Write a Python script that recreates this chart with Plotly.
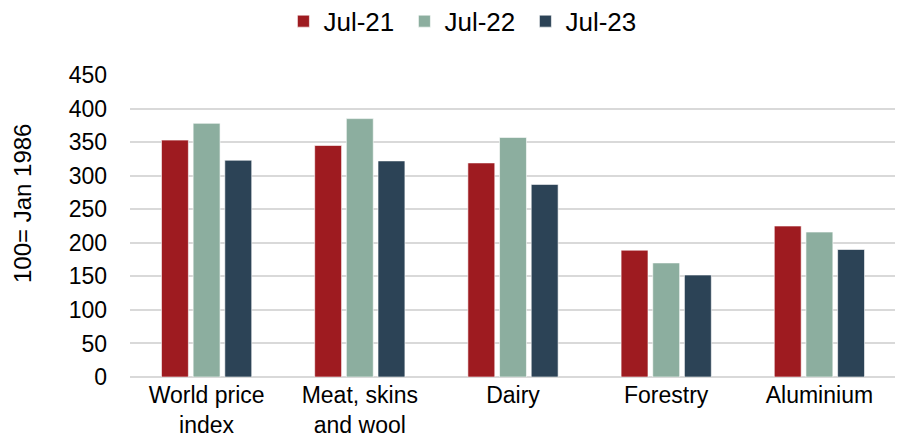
import plotly.graph_objects as go

categories = ["World price<br>index", "Meat, skins<br>and wool", "Dairy", "Forestry", "Aluminium"]
series_names = ["Jul-21", "Jul-22", "Jul-23"]
jul21 = [353, 345, 319, 189, 225]
jul22 = [378, 385, 357, 170, 216]
jul23 = [323, 322, 287, 152, 190]
colors = ["#9E1B20", "#8CAE9F", "#2C4356"]
y_title = "100= Jan 1986"

fig = go.Figure()
for name, vals, c in zip(series_names, [jul21, jul22, jul23], colors):
    fig.add_trace(go.Bar(x=categories, y=vals, name=name, marker_color=c,
                         marker_line=dict(color="rgba(255,255,255,0.6)", width=1)))

fig.update_layout(
    width=903, height=441,
    margin=dict(l=122, r=15, t=67, b=72, autoexpand=False),
    paper_bgcolor="white", plot_bgcolor="white",
    font=dict(family="Liberation Sans, Arial, sans-serif", size=23, color="#000000"),
    barmode="group", bargap=0.38, bargroupgap=0.15,
    legend=dict(orientation="h", x=0.506, xanchor="center", xref="container",
                y=0.970, yanchor="middle", yref="container",
                font=dict(size=26), itemwidth=30, entrywidth=76, traceorder="normal"),
    showlegend=True,
)
fig.add_annotation(text=y_title, textangle=-90, xref="paper", yref="paper",
                   x=-0.141, y=0.576, xanchor="center", yanchor="middle",
                   showarrow=False, font=dict(size=24))
fig.update_yaxes(range=[0, 450], dtick=50, showgrid=True, gridcolor="#D9D9D9", gridwidth=1.5,
                 zeroline=True, zerolinecolor="#D9D9D9", zerolinewidth=1.5,
                 ticks="", ticklabelstandoff=22, automargin=False)
fig.update_xaxes(showline=False, ticks="", tickfont=dict(size=23), ticklabelstandoff=2,
                 automargin=False)

fig.write_html("out.html")
